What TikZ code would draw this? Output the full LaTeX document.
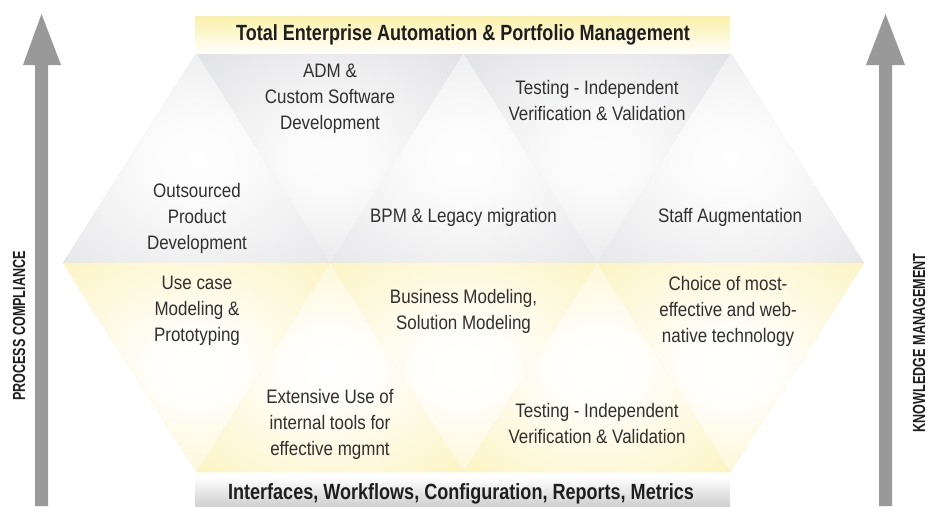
\documentclass[tikz,border=0pt]{standalone}
\usepackage{fontspec}
\setmainfont[FakeStretch=0.87]{Liberation Sans}
\newfontfamily\titlefont[FakeStretch=0.82]{Liberation Sans}
\newfontfamily\sidefont[FakeStretch=0.72]{Liberation Sans}
\definecolor{gedge}{HTML}{D8D9DC}
\definecolor{gedgeb}{HTML}{D3D4D7}
\definecolor{yedge}{HTML}{FAEC98}
\definecolor{ytop}{HTML}{FBF1A8}
\definecolor{bbot}{HTML}{D0D0D0}
\definecolor{arrowgrey}{HTML}{999999}
\definecolor{txt}{HTML}{303030}
\definecolor{htxt}{HTML}{1E1E1E}
\pgfdeclareradialshading{greytri}{\pgfpoint{0bp}{0bp}}{color(0bp)=(white!97!gedge); color(8bp)=(white!93!gedge); color(32bp)=(white!45!gedge); color(50bp)=(gedge)}
\pgfdeclareradialshading{greytrib}{\pgfpoint{0bp}{0bp}}{color(0bp)=(white!94!gedgeb); color(8bp)=(white!90!gedgeb); color(32bp)=(white!40!gedgeb); color(50bp)=(gedgeb)}
\pgfdeclareradialshading{yellowtri}{\pgfpoint{0bp}{0bp}}{color(0bp)=(white); color(8bp)=(white!96!yedge); color(32bp)=(white!50!yedge); color(50bp)=(yedge)}
\begin{document}
\begin{tikzpicture}[x=1pt,y=-1pt,
  every node/.style={inner sep=0pt, text=txt},
  body/.style={font=\fontsize{19.5}{26}\selectfont, align=center},
  heading/.style={font=\titlefont\bfseries\fontsize{22}{26}\selectfont, text=htxt},
  side/.style={font=\sidefont\bfseries\fontsize{17.5}{20}\selectfont, text=htxt, rotate=90}]
\useasboundingbox (0,0) rectangle (928,506);
% base fills of hexagon halves
\fill[gedge] (196.5,53) -- (730.5,53) -- (864,263) -- (63,263) -- cycle;
\fill[yedge] (63,263) -- (864,263) -- (730.5,472) -- (196.5,472) -- cycle;
% triangles
\foreach \a/\b/\c in {63/196.5/330, 330/463.5/597, 597/730.5/864} {
  \shade[shading=greytri] (\a,263) -- (\b,53) -- (\c,263) -- cycle;
  \shade[shading=yellowtri] (\a,263) -- (\b,472) -- (\c,263) -- cycle;
}
\foreach \a/\b/\c in {196.5/330/463.5, 463.5/597/730.5} {
  \shade[shading=greytrib] (\a,53) -- (\b,263) -- (\c,53) -- cycle;
  \shade[shading=yellowtri] (\a,472) -- (\b,263) -- (\c,472) -- cycle;
}
% bars
\shade[top color=ytop, bottom color=white!96!ytop] (195,16) rectangle (730,53);
\shade[top color=white, bottom color=bbot] (195,477) rectangle (730,506);
% arrows
\fill[arrowgrey] (35,506) -- (35,65) -- (23,65) -- (41.5,14) -- (61,65) -- (48,65) -- (48,506) -- cycle;
\fill[arrowgrey] (879,506) -- (879,65) -- (866,65) -- (885.5,14) -- (905,65) -- (892,65) -- (892,506) -- cycle;
% texts
\node[heading] (title) at (463,35) {Total Enterprise Automation \& Portfolio Management};
\node[heading] (base) at (461,494) {Interfaces, Workflows, Configuration, Reports, Metrics};
\node[side] (pc) at (19,326) {PROCESS COMPLIANCE};
\node[side] (km) at (919,343) {KNOWLEDGE MANAGEMENT};
\node[body] (adm) at (330,99) {ADM \&\\Custom Software\\Development};
\node[body] (tst1) at (597,101) {Testing - Independent\\Verification \& Validation};
\node[body] (opd) at (197,218) {Outsourced\\Product\\Development};
\node[body] (bpm) at (463.5,217) {BPM \& Legacy migration};
\node[body] (staff) at (730,217) {Staff Augmentation};
\node[body] (uc) at (197,311) {Use case\\Modeling \&\\Prototyping};
\node[body] (bm) at (463.5,311) {Business Modeling,\\Solution Modeling};
\node[body] (choice) at (728,311) {Choice of most-\\effective and web-\\native technology};
\node[body] (ext) at (330,424) {Extensive Use of\\internal tools for\\effective mgmnt};
\node[body] (tst2) at (597,424) {Testing - Independent\\Verification \& Validation};
\end{tikzpicture}
\end{document}
